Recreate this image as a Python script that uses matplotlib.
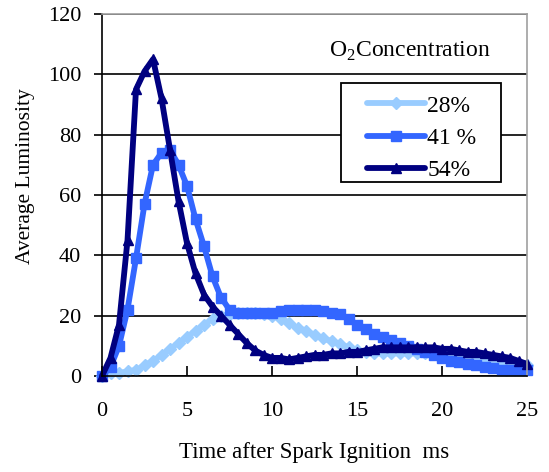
import numpy as np
import matplotlib
matplotlib.use('Agg')
import matplotlib.pyplot as plt
from matplotlib.patches import Rectangle

plt.rcParams['font.family'] = ['Liberation Serif', 'DejaVu Serif']
plt.rcParams['mathtext.fontset'] = 'custom'
plt.rcParams['mathtext.rm'] = 'Liberation Serif'

# time after spark ignition, ms (sampled every 0.5 ms)
time_ms = np.arange(0, 25.5, 0.5)

lum_28 = [0, 1, 1, 1.5, 2, 3.5, 5, 7, 9, 11, 13, 15, 17, 19, 20, 20.5, 21, 21, 21, 20.5,
          20, 19, 17.5, 16, 15, 13.5, 12.5, 11.5, 10.5, 9.5, 8.5, 8, 7.5, 7.5, 7.5, 7.5,
          7.5, 7.5, 7.5, 7.5, 7, 7, 6.5, 6, 6, 5.5, 5, 4.5, 4, 4, 3.5]
lum_41 = [0, 3, 10, 22, 39, 57, 70, 74, 75, 70, 63, 52, 43, 33, 26, 22, 21, 21, 21, 21,
          21, 21.5, 22, 22, 22, 22, 21.5, 21, 20.5, 19, 17, 15.5, 14, 13, 12, 11, 10, 9,
          8, 7, 6, 5, 4.5, 4, 3.5, 3, 2.5, 2, 2, 2, 2]
lum_54 = [0, 6, 17, 45, 95, 101, 105, 92, 75, 58, 44, 34, 27, 23, 20, 17, 14, 11, 8.5, 7,
          6, 6, 5.5, 6, 6.5, 7, 7, 7.5, 7.5, 8, 8, 8.5, 9, 9.5, 9.5, 9.5, 9.5, 9.5, 9.5,
          9.5, 9, 9, 8.5, 8, 8, 7.5, 7, 6.5, 6, 5, 4]

labels = ['28%', '41 %', '54%']
colors = ['#99CCFF', '#3366FF', '#000080']
markers = ['D', 's', '^']

fig = plt.figure(figsize=(5.49, 4.72), dpi=100)
ax = fig.add_axes([0.1858, 0.2034, 0.7742, 0.7669])

for y, lab, c, m in zip([lum_28, lum_41, lum_54], labels, colors, markers):
    ms = 6 if m == 'D' else 7
    ax.plot(time_ms, y, color=c, marker=m, markersize=ms, linewidth=4.2,
            solid_joinstyle='round', solid_capstyle='round',
            label=lab, clip_on=False)

ax.set_xlim(0, 25)
ax.set_ylim(0, 120)
ax.set_xticks([0, 5, 10, 15, 20, 25])
ax.set_yticks(range(0, 121, 20))
ax.yaxis.grid(True, color='black', linewidth=1.2)
ax.set_axisbelow(True)

ax.tick_params(axis='x', direction='in', length=7, width=1.2, pad=19, labelsize=16)
ax.tick_params(axis='y', direction='out', length=6, width=1.2, pad=9, labelsize=16)
for s in ['left', 'bottom']:
    ax.spines[s].set_linewidth(1.2)
for s in ['top', 'right']:
    ax.spines[s].set_color('#a0a0a0')
    ax.spines[s].set_linewidth(1.2)

ax.set_xlabel('Time after Spark Ignition  ms', fontsize=16.5, labelpad=15)
ax.set_ylabel('Average Luminosity', fontsize=15.5)
ax.yaxis.set_label_coords(-0.157, 0.552)

ax.text(0.725, 0.896, r'O$_\mathrm{2}$Concentration', transform=ax.transAxes,
        ha='center', va='center', fontsize=17)

# legend box drawn separately to get Excel-like padding
ax.add_patch(Rectangle((0.5624, 0.5359), 0.3765, 0.2735, transform=ax.transAxes,
                       facecolor='white', edgecolor='black', linewidth=1.3,
                       zorder=4.5, clip_on=False))
leg = ax.legend(loc='upper left', bbox_to_anchor=(0.6235, 0.776), borderaxespad=0,
                frameon=False, fontsize=17, handlelength=2.45, handletextpad=0.1,
                labelspacing=0.45, borderpad=0)

fig.savefig('out.png', dpi=100)
